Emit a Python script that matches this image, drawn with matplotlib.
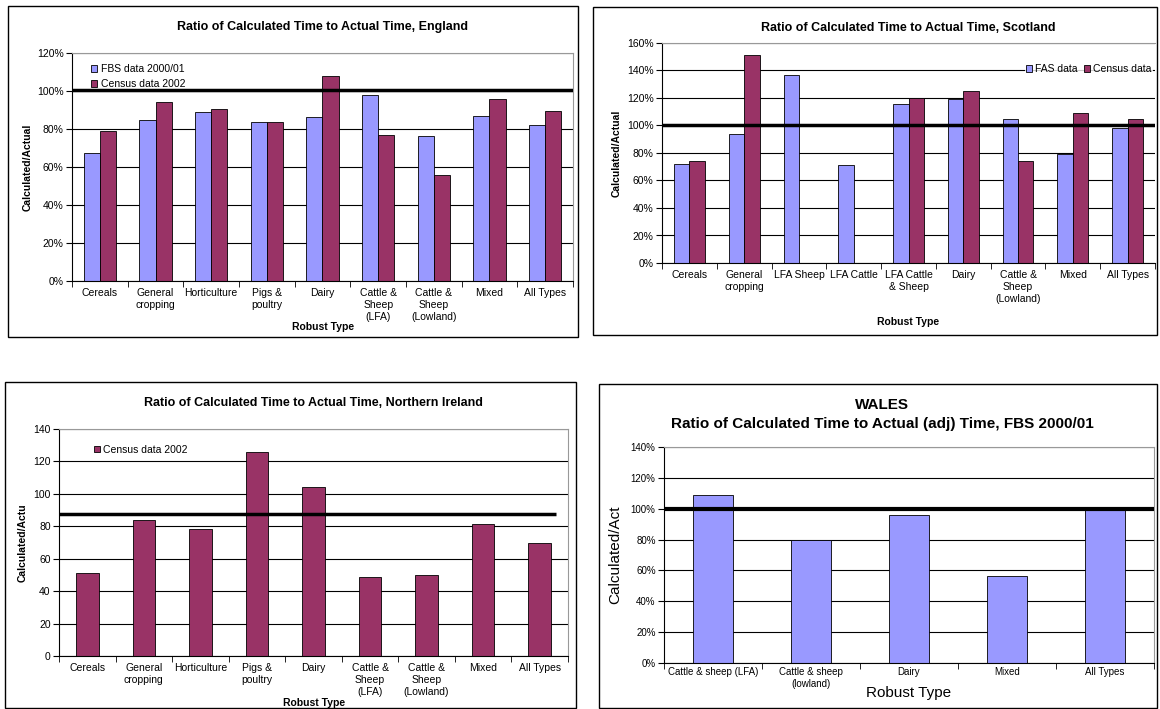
import numpy as np
import matplotlib
matplotlib.use("Agg")
import matplotlib.pyplot as plt
from matplotlib.patches import Rectangle
from matplotlib.ticker import FuncFormatter, FixedLocator, NullFormatter

plt.rcParams['font.family'] = ['Liberation Sans', 'DejaVu Sans']

BLUE = '#9999FF'
MAROON = '#993366'

# England
eng_types = ['Cereals', 'General\ncropping', 'Horticulture', 'Pigs &\npoultry', 'Dairy',
             'Cattle &\nSheep\n(LFA)', 'Cattle &\nSheep\n(Lowland)', 'Mixed', 'All Types']
eng_fbs = [67.4, 84.7, 88.9, 83.8, 86.4, 97.7, 76.2, 86.8, 82.0]
eng_census = [79.0, 94.2, 90.7, 83.8, 107.7, 76.8, 55.8, 95.9, 89.3]
eng_ref = 100.7

# Scotland
sco_types = ['Cereals', 'General\ncropping', 'LFA Sheep', 'LFA Cattle', 'LFA Cattle\n& Sheep',
             'Dairy', 'Cattle &\nSheep\n(Lowland)', 'Mixed', 'All Types']
sco_fas = [72.0, 93.9, 136.5, 71.0, 115.8, 119.5, 104.4, 79.3, 98.1]
sco_census = [74.2, 151.1, np.nan, np.nan, 119.7, 125.3, 74.2, 109.0, 104.6]
sco_ref = 100.0

# Northern Ireland
ni_types = ['Cereals', 'General\ncropping', 'Horticulture', 'Pigs &\npoultry', 'Dairy',
            'Cattle &\nSheep\n(LFA)', 'Cattle &\nSheep\n(Lowland)', 'Mixed', 'All Types']
ni_census = [50.9, 83.6, 78.6, 125.6, 104.0, 49.0, 49.8, 81.7, 69.6]
ni_ref = 87.3

# Wales
wal_types = ['Cattle & sheep (LFA)', 'Cattle & sheep\n(lowland)', 'Dairy', 'Mixed', 'All Types']
wal_fbs = [109.2, 79.9, 96.1, 56.2, 101.2]
wal_ref = 100.0

W, H = 1160, 709
fig = plt.figure(figsize=(W / 100, H / 100), dpi=100)
fig.patch.set_facecolor('white')


def axes_px(left, top, right, bottom):
    return fig.add_axes([left / W, 1 - bottom / H, (right - left) / W, (bottom - top) / H])


def frame_px(left, top, right, bottom):
    fig.patches.append(Rectangle((left / W, 1 - bottom / H), (right - left) / W, (bottom - top) / H,
                                 transform=fig.transFigure, fill=False, edgecolor='black',
                                 linewidth=1.0, zorder=0))


def style_axes(ax, n, ymax, step, pct=True, tick_fs=7.5, ytick_fs=7.5):
    ax.set_xlim(-0.5, n - 0.5)
    ax.set_ylim(0, ymax)
    ax.set_yticks(np.arange(0, ymax + 0.1, step))
    if pct:
        ax.yaxis.set_major_formatter(FuncFormatter(lambda v, p: f'{v:.0f}%'))
    ax.yaxis.grid(True, color='black', linewidth=0.8)
    ax.set_axisbelow(True)
    ax.spines['left'].set_color('black')
    ax.spines['bottom'].set_color('black')
    ax.spines['top'].set_color('#999999')
    ax.spines['right'].set_color('#999999')
    ax.set_xticks(np.arange(n))
    ax.tick_params(axis='x', which='major', length=0, labelsize=tick_fs, pad=5)
    ax.xaxis.set_minor_locator(FixedLocator(np.arange(-0.5, n, 1.0)))
    ax.xaxis.set_minor_formatter(NullFormatter())
    ax.tick_params(axis='x', which='minor', length=4, direction='out', color='black')
    ax.tick_params(axis='y', length=4, direction='out', labelsize=ytick_fs, pad=2)


bar_kw = dict(edgecolor='black', linewidth=0.6)

# ---- England ----
frame_px(8, 6, 578, 337)
ax = axes_px(72, 53, 573, 281)
x = np.arange(len(eng_types))
w = 0.29
ax.bar(x - w / 2, eng_fbs, w, color=BLUE, label='FBS data 2000/01', **bar_kw)
ax.bar(x + w / 2, eng_census, w, color=MAROON, label='Census data 2002', **bar_kw)
ax.axhline(eng_ref, color='black', linewidth=2.5, zorder=4)
style_axes(ax, len(eng_types), 120, 20)
ax.set_xticklabels(eng_types, linespacing=1.25)
ax.set_title('Ratio of Calculated Time to Actual Time, England', fontsize=9, fontweight='bold', pad=16.5)
ax.set_ylabel('Calculated/Actual', fontsize=7.5, fontweight='bold', labelpad=3)
fig.text(323 / W, 1 - 327 / H, 'Robust Type', fontsize=7.5, fontweight='bold', ha='center', va='center')
ax.legend(loc='upper left', bbox_to_anchor=(0.03, 0.97), frameon=False, fontsize=7.5,
          handlelength=0.6, handleheight=0.6, handletextpad=0.3, labelspacing=0.5, borderaxespad=0)

# ---- Scotland ----
frame_px(593, 7, 1157, 335)
ax = axes_px(662, 43, 1155, 263)
x = np.arange(len(sco_types))
w = 0.28
ax.bar(x - w / 2, sco_fas, w, color=BLUE, label='FAS data', **bar_kw)
ax.bar(x + w / 2, sco_census, w, color=MAROON, label='Census data', **bar_kw)
ax.axhline(sco_ref, color='black', linewidth=2.5, zorder=4)
style_axes(ax, len(sco_types), 160, 20)
ax.spines['right'].set_visible(False)
ax.set_xticklabels(sco_types, linespacing=1.25)
ax.set_title('Ratio of Calculated Time to Actual Time, Scotland', fontsize=9, fontweight='bold', pad=8.5)
ax.set_ylabel('Calculated/Actual', fontsize=7.5, fontweight='bold', labelpad=4)
fig.text(908 / W, 1 - 322 / H, 'Robust Type', fontsize=7.5, fontweight='bold', ha='center', va='center')
leg = ax.legend(loc='center right', bbox_to_anchor=(0.995, 0.88), ncol=2, frameon=True, fontsize=7.5,
                handlelength=0.6, handleheight=0.6, handletextpad=0.3, columnspacing=0.6,
                borderaxespad=0, borderpad=0.1, fancybox=False)
leg.get_frame().set_edgecolor('white')
leg.get_frame().set_linewidth(0)
leg.set_zorder(6)

# ---- Northern Ireland ----
frame_px(5, 382, 576, 708)
ax = axes_px(59, 429, 568, 656)
x = np.arange(len(ni_types))
ax.bar(x, ni_census, 0.4, color=MAROON, label='Census data 2002', **bar_kw)
ax.plot([-0.5, 8.29], [ni_ref, ni_ref], color='black', linewidth=2.5, zorder=4, solid_capstyle='butt')
style_axes(ax, len(ni_types), 140, 20, pct=False)
ax.set_xticklabels(ni_types, linespacing=1.25)
ax.set_title('Ratio of Calculated Time to Actual Time, Northern Ireland', fontsize=9, fontweight='bold', pad=16.5)
ax.set_ylabel('Calculated/Actu', fontsize=7.5, fontweight='bold', labelpad=4)
fig.text(314 / W, 1 - 703 / H, 'Robust Type', fontsize=7.5, fontweight='bold', ha='center', va='center')
ax.legend(loc='upper left', bbox_to_anchor=(0.06, 0.95), frameon=False, fontsize=7.5,
          handlelength=0.6, handleheight=0.6, handletextpad=0.3, borderaxespad=0)

# ---- Wales ----
frame_px(599, 384, 1157, 708)
ax = axes_px(664, 447, 1154, 663)
x = np.arange(len(wal_types))
ax.bar(x, wal_fbs, 0.4, color=BLUE, **bar_kw)
ax.axhline(wal_ref, color='black', linewidth=3, zorder=4)
style_axes(ax, len(wal_types), 140, 20, tick_fs=7, ytick_fs=7)
ax.set_xticklabels(wal_types, linespacing=1.2)
ax.tick_params(axis='x', which='major', pad=3)
ax.set_title('WALES\nRatio of Calculated Time to Actual (adj) Time, FBS 2000/01',
             fontsize=11, fontweight='bold', pad=13.5, linespacing=1.45, x=0.445)
ax.set_ylabel('Calculated/Act', fontsize=11, labelpad=6)
ax.set_xlabel('Robust Type', fontsize=11, labelpad=-2)

fig.savefig('out.png', dpi=100)
